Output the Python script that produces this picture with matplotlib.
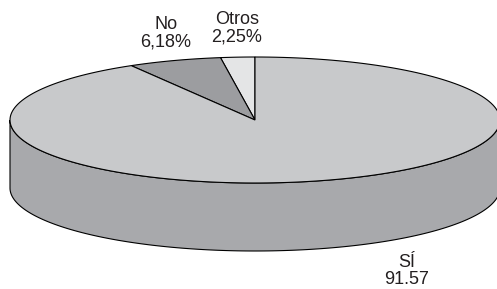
import numpy as np
import matplotlib
matplotlib.use("Agg")
import matplotlib.pyplot as plt
from matplotlib.patches import Polygon

plt.rcParams['font.family'] = ['Liberation Sans', 'DejaVu Sans']

# datos
etiquetas = ["Otros", "No", "SÍ"]
valores = [2.25, 6.18, 91.57]
textos = ["Otros\n2,25%", "No\n6,18%", "SÍ\n91.57"]
colores = ["#e4e5e6", "#9c9da0", "#c8c9cb"]
color_lado = "#a8a9ac"

# geometria del pastel (pixeles)
cx, cy = 255, 120
a, b = 245, 63
prof = 68


def punto(t, dy=0):
    return cx + a * np.cos(t), cy - b * np.sin(t) + dy


def arco(t0, t1, dy=0, n=200):
    t = np.linspace(t0, t1, n)
    x, y = punto(t, dy)
    return np.column_stack([x, y])


fig = plt.figure(figsize=(4.97, 2.89), dpi=100)
ax = fig.add_axes([0, 0, 1, 1])
ax.set_xlim(0, 497)
ax.set_ylim(289, 0)
ax.axis('off')

# lado frontal
sup = arco(np.pi, 2 * np.pi)
inf = arco(2 * np.pi, np.pi, dy=prof)
ax.add_patch(Polygon(np.vstack([sup, inf]), closed=True, fc=color_lado,
                     ec='black', lw=0.8))

# caras superiores, empezando en las 12 y girando en sentido antihorario
fr = np.array(valores) / sum(valores)
ini = np.pi / 2
for f, col in zip(fr, colores):
    fin = ini + f * 2 * np.pi
    pts = np.vstack([[cx, cy], arco(ini, fin)])
    ax.add_patch(Polygon(pts, closed=True, fc=col, ec='black', lw=0.8,
                         joinstyle='miter'))
    ini = fin

# etiquetas
pos = [(237, 28), (166, 33), (407, 271)]
for t, (x, y) in zip(textos, pos):
    ax.text(x, y, t, ha='center', va='center', fontsize=13,
            linespacing=1.05, color='#231f20')

fig.savefig("out.png", dpi=100)
